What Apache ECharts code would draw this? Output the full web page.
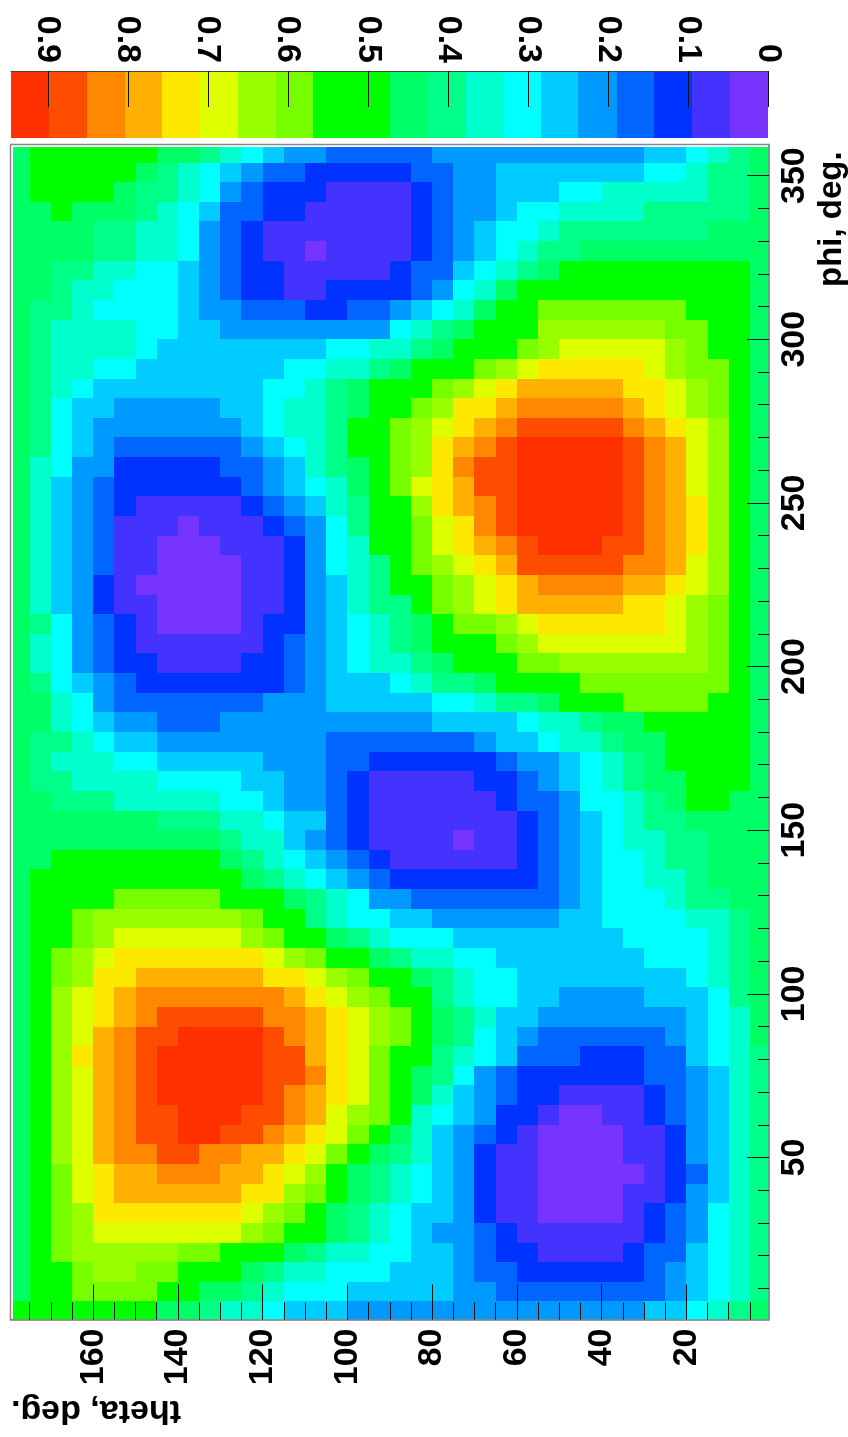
<!DOCTYPE html>
<html>
<head>
<meta charset="utf-8">
<style>html,body{margin:0;padding:0;background:#fff}#c{width:848px;height:1437px}</style>
<script src="https://cdn.jsdelivr.net/npm/echarts@6/dist/echarts.min.js"></script>
</head>
<body>
<div id="c"></div>
<script>
// Colour-band index (0 = lowest band), one row per phi cell, top row phi = 357.
const thetaCentres = [177.5,172.5,167.5,162.5,157.5,152.5,147.5,142.5,137.5,132.5,127.5,122.5,117.5,112.5,107.5,102.5,97.5,92.5,87.5,82.5,77.5,72.5,67.5,62.5,57.5,52.5,47.5,42.5,37.5,32.5,27.5,22.5,17.5,12.5,7.5,2.5];
const phiCentres = [357,351,345,339,333,327,321,315,309,303,297,291,285,279,273,267,261,255,249,243,237,231,225,219,213,207,201,195,189,183,177,171,165,159,153,147,141,135,129,123,117,111,105,99,93,87,81,75,69,63,57,51,45,39,33,27,21,15,9,3];
const bandRows = [
[9,10,10,10,10,10,10,9,9,8,7,6,5,4,4,3,3,3,3,3,4,4,4,4,4,4,4,4,4,4,5,5,6,7,8,9],
[9,10,10,10,10,10,9,8,7,6,5,4,3,3,2,2,2,2,2,3,3,4,4,5,5,5,5,5,5,5,6,6,7,8,8,9],
[9,10,10,10,10,9,8,8,7,6,4,3,2,2,2,1,1,1,1,2,3,4,4,5,5,5,6,6,7,7,7,7,7,8,8,9],
[9,9,10,9,9,9,8,7,6,5,3,3,2,2,1,1,1,1,1,2,3,4,4,5,6,6,7,7,7,7,8,8,8,8,8,9],
[9,9,9,9,8,8,7,7,6,4,3,2,1,1,1,1,1,1,1,2,3,4,5,6,6,7,8,8,8,8,8,8,8,9,9,9],
[9,9,9,9,8,8,7,7,6,4,3,2,1,1,0,1,1,1,1,2,3,4,5,6,7,8,8,9,9,9,9,9,9,9,9,9],
[9,9,8,8,7,7,6,6,5,4,3,2,2,1,1,1,1,1,2,3,3,5,6,7,8,9,10,10,10,10,10,10,10,10,10,9],
[9,9,8,7,7,6,6,6,5,4,3,2,2,1,1,2,2,2,2,3,4,6,7,9,10,10,10,10,10,10,10,10,10,10,10,9],
[9,8,8,7,6,6,6,6,5,4,4,3,3,3,2,2,3,3,4,5,6,7,9,10,10,12,12,12,12,12,12,12,10,10,10,9],
[9,8,7,7,7,7,6,6,5,5,4,4,4,4,4,4,4,4,6,7,8,9,10,10,10,13,13,13,13,13,13,12,12,10,10,9],
[9,8,7,7,7,7,6,5,5,5,5,5,5,5,5,6,6,7,7,8,9,10,10,10,12,13,14,14,14,14,14,13,12,10,10,9],
[9,8,7,7,6,6,5,5,5,5,5,5,5,6,6,7,7,8,9,10,10,10,12,13,14,15,15,15,15,15,14,13,12,12,10,9],
[9,8,7,6,5,5,5,5,5,5,5,5,6,6,7,8,9,10,10,10,12,13,14,15,16,16,16,16,16,15,15,14,13,12,10,9],
[9,8,6,5,5,4,4,4,4,4,5,5,6,7,7,8,9,10,10,12,13,15,15,16,17,17,17,17,17,16,15,14,13,12,10,9],
[9,8,6,5,4,4,4,4,4,4,4,5,6,7,7,8,10,10,12,13,14,15,16,17,18,18,18,18,18,17,16,15,14,13,10,9],
[9,8,6,5,4,3,3,3,3,3,3,4,5,6,7,8,10,10,12,13,15,16,17,18,19,19,19,19,19,18,17,16,14,13,10,9],
[9,7,6,4,4,2,2,2,2,2,3,3,4,5,7,8,9,10,12,13,15,17,18,18,19,19,19,19,19,18,17,16,14,13,10,9],
[9,7,5,4,3,2,2,2,2,2,2,3,4,5,6,7,9,10,12,14,15,16,18,18,19,19,19,19,19,18,17,16,14,13,10,9],
[9,7,5,4,3,2,1,1,1,1,1,2,3,4,5,7,8,10,10,13,15,16,17,18,19,19,19,19,19,18,17,16,15,13,10,9],
[9,7,5,4,3,1,1,1,0,1,1,1,2,3,4,6,8,10,10,12,14,15,17,18,19,19,19,19,19,18,17,16,15,13,10,9],
[9,7,5,4,3,1,1,0,0,0,1,1,1,2,4,6,7,10,10,12,14,15,16,17,18,19,19,19,18,18,17,16,15,13,10,9],
[9,7,5,4,3,1,1,0,0,0,0,1,1,2,4,6,7,8,10,12,13,14,15,16,18,18,18,18,18,17,17,16,14,13,10,9],
[9,7,5,4,2,1,0,0,0,0,0,1,1,2,4,5,7,8,10,10,12,13,14,15,16,17,17,17,17,16,16,15,14,13,10,9],
[9,7,5,4,2,1,1,0,0,0,0,1,1,2,4,5,7,8,8,10,12,13,14,15,16,16,16,16,16,15,15,14,13,12,10,9],
[9,8,6,4,3,2,1,0,0,0,0,1,2,2,4,5,6,7,8,9,10,12,12,13,14,15,15,15,15,15,15,14,13,12,10,9],
[9,7,6,4,3,2,1,1,1,1,1,1,2,3,4,5,6,7,8,9,10,10,10,12,13,14,14,14,14,14,14,14,13,12,10,9],
[9,7,6,4,3,2,2,1,1,1,1,2,2,3,4,5,6,7,7,8,9,10,10,10,12,12,13,13,13,13,13,13,13,12,10,9],
[9,8,6,5,4,3,2,2,2,2,2,2,2,3,4,5,5,5,6,7,8,8,9,10,10,10,10,12,12,12,12,12,12,12,10,9],
[9,9,7,6,4,3,3,3,3,3,3,3,4,4,4,5,5,5,5,5,6,6,7,8,8,9,10,10,10,12,12,12,12,10,10,9],
[9,9,7,6,5,4,4,3,3,3,4,4,4,4,4,4,4,4,4,4,5,5,5,5,6,7,7,8,9,9,10,10,10,10,10,9],
[9,8,8,7,6,5,5,4,4,4,4,4,4,4,4,3,3,3,3,3,3,3,4,5,5,6,7,7,8,9,9,10,10,10,10,9],
[9,8,7,7,7,6,6,5,5,5,5,5,4,4,4,3,3,2,2,2,2,2,2,3,4,4,5,6,7,8,9,10,10,10,10,9],
[9,8,8,7,7,7,7,6,6,6,6,5,5,4,4,3,2,1,1,1,1,1,2,2,3,4,5,6,7,8,9,9,10,10,10,9],
[9,9,8,8,8,7,7,7,7,7,6,6,5,4,4,3,2,1,1,1,1,1,1,2,3,3,4,6,6,7,8,9,10,10,9,9],
[9,9,9,9,9,9,9,8,8,8,7,7,6,5,5,3,2,1,1,1,1,1,1,1,2,3,4,5,6,7,8,8,9,9,9,9],
[9,9,9,9,9,9,9,9,9,9,8,7,7,5,4,3,2,1,1,1,1,0,1,1,2,3,4,5,6,7,7,8,8,9,9,9],
[9,9,10,10,10,10,10,10,10,10,9,8,7,6,5,4,3,2,1,1,1,1,1,1,2,3,4,5,6,6,7,8,8,9,9,9],
[9,10,10,10,10,10,10,10,10,10,10,9,8,7,6,5,4,3,2,2,2,2,2,2,2,3,4,5,6,6,7,7,8,9,9,9],
[9,10,10,10,10,12,12,12,12,12,10,10,10,9,8,7,6,4,4,3,3,3,3,3,3,3,4,5,6,6,6,7,8,8,9,9],
[9,10,10,12,13,13,13,13,13,13,13,12,10,10,8,7,6,6,5,5,4,4,4,4,4,4,5,5,6,6,6,6,7,7,8,9],
[9,10,10,12,13,14,14,14,14,14,14,13,12,10,10,9,8,7,6,6,6,5,5,5,5,5,5,5,5,6,6,6,6,7,8,9],
[9,10,12,13,14,15,15,15,15,15,15,15,14,13,12,10,10,9,8,7,7,6,6,5,5,5,5,5,5,5,6,6,6,7,8,9],
[9,10,12,13,15,15,16,16,16,16,16,16,15,15,14,13,12,10,10,9,8,7,6,6,5,5,5,5,5,5,5,5,6,7,8,9],
[9,10,13,14,15,16,17,17,17,17,17,17,17,16,15,14,13,12,10,10,8,7,6,6,5,5,4,4,4,4,5,5,5,6,8,9],
[9,10,13,14,15,16,17,18,18,18,18,18,17,17,16,15,14,13,12,10,9,8,7,5,5,4,4,4,4,4,4,4,5,6,7,9],
[9,10,13,14,16,17,18,18,19,19,19,19,18,17,16,15,14,13,12,10,9,8,6,5,4,3,3,3,3,3,3,4,5,6,7,9],
[9,10,13,15,16,17,18,19,19,19,19,19,18,18,16,15,14,12,10,10,8,7,6,5,3,3,3,2,2,2,3,3,5,6,7,8],
[9,10,13,14,16,17,18,19,19,19,19,19,18,18,17,15,14,12,10,9,8,6,4,3,2,2,2,2,2,2,3,3,4,5,7,8],
[9,10,13,14,16,17,18,19,19,19,19,19,18,17,16,15,14,12,10,9,7,5,4,3,2,2,1,1,1,1,2,3,4,5,7,8],
[9,10,13,14,16,17,18,18,19,19,19,18,18,17,16,14,13,12,10,7,6,5,4,2,2,1,0,0,1,1,2,3,4,5,7,8],
[9,10,13,14,16,17,18,18,19,19,18,18,17,16,15,14,12,10,9,7,5,4,3,2,1,0,0,0,0,1,1,2,4,5,7,8],
[9,10,13,14,16,17,17,18,18,17,17,16,16,15,14,12,10,9,8,7,5,4,2,1,1,0,0,0,0,1,1,2,4,5,7,8],
[9,10,12,14,15,16,16,17,17,17,16,16,15,14,13,10,9,8,7,6,5,4,2,1,1,0,0,0,0,0,1,2,3,5,7,8],
[9,10,12,14,15,16,16,16,16,16,16,15,15,13,12,10,9,8,7,6,5,4,2,1,1,0,0,0,0,1,1,2,4,5,7,8],
[9,10,12,13,15,15,15,15,15,15,15,14,13,12,10,9,8,7,6,5,5,4,2,1,1,0,0,0,0,1,2,3,4,6,7,8],
[9,10,12,13,14,14,14,14,14,14,14,13,12,10,10,9,8,7,6,5,4,4,3,2,1,1,1,1,1,1,2,3,4,6,7,8],
[9,10,12,13,13,13,13,13,12,12,10,10,10,9,8,7,7,6,6,5,5,4,3,2,2,1,1,1,1,2,3,3,5,6,7,8],
[9,10,10,12,13,13,12,12,10,10,10,9,8,7,7,6,6,6,5,5,5,4,3,3,2,2,2,2,2,2,3,4,5,6,7,8],
[9,10,10,12,12,12,12,10,10,9,9,8,7,6,6,6,5,5,5,5,5,4,4,3,3,3,3,3,3,3,3,4,5,6,7,8],
[10,10,10,10,10,10,10,9,9,8,7,7,6,5,5,5,4,4,4,4,4,4,4,4,4,4,4,4,4,4,5,5,6,7,8,9]
];
const palette = ['#7733ff','#4433ff','#0033ff','#0066ff','#0099ff','#00ccff','#00ffff','#00ffcc','#00ff88','#00ff66','#00ff00','#00ff00','#77ff00','#99ff00','#ddff00','#ffe800','#ffb000','#ff8800','#ff4d00','#ff3000'];
const barEdges = [0,0.047,0.095,0.142,0.189,0.237,0.284,0.331,0.378,0.426,0.473,0.520,0.568,0.615,0.662,0.710,0.757,0.804,0.851,0.899,0.946];
const barTicks = [0,0.1,0.2,0.3,0.4,0.5,0.6,0.7,0.8,0.9];
const thetaMajor = [20,40,60,80,100,120,140,160];
const thetaMinor = [5,10,15,25,30,35,45,50,55,65,70,75,85,90,95,105,110,115,125,130,135,145,150,155,165,170,175];
const phiMajor = [50,100,150,200,250,300,350];
const phiMinor = [10,20,30,40,60,70,80,90,110,120,130,140,160,170,180,190,210,220,230,240,260,270,280,290,310,320,330,340];

const FONT = '"Liberation Sans", Arial, sans-serif';
const thetaCell = 5, phiCell = 6;
const thetaEdge = 179, phiEdge = 358.6;
const cells = [];
bandRows.forEach((r, i) => r.forEach((b, j) => cells.push([thetaCentres[j], phiCentres[i], b])));
const barCells = palette.map((c, i) => [barEdges[i], barEdges[i + 1], i]);

function renderCell(params, api) {
  const t = api.value(0), p = api.value(1);
  const a = api.coord([Math.min(t + thetaCell / 2, thetaEdge), Math.min(p + phiCell / 2, phiEdge)]);
  const b = api.coord([Math.max(t - thetaCell / 2, 0.5), Math.max(p - phiCell / 2, 0.5)]);
  const x = Math.round(a[0]), y = Math.round(a[1]);
  return { type: 'rect', shape: { x, y, width: Math.round(b[0]) - x, height: Math.round(b[1]) - y },
           style: { fill: palette[api.value(2)] } };
}
function renderBar(params, api) {
  const a = api.coord([api.value(1), 1]);
  const b = api.coord([api.value(0), 0]);
  const x = Math.round(a[0]), y = Math.round(a[1]);
  return { type: 'rect', shape: { x, y, width: Math.round(b[0]) - x, height: Math.round(b[1]) - y },
           style: { fill: palette[api.value(2)] } };
}
const labelStyle = { color: '#000', fontFamily: FONT, fontWeight: 'bold', fontSize: 34, rotate: 90 };
const tickLine = { color: '#111', width: 1 };
const frameLine = { show: true, onZero: false, lineStyle: { color: '#888', width: 1.5 } };

const chart = echarts.init(document.getElementById('c'), null, { renderer: 'canvas' });
chart.setOption({
  animation: false,
  backgroundColor: '#fff',
  grid: [
    { left: 10.5, top: 144.5, width: 758.5, height: 1175, show: true, borderColor: '#888', borderWidth: 1.5, backgroundColor: '#fff' },
    { left: 11, top: 71, width: 757, height: 67 }
  ],
  xAxis: [
    { type: 'value', gridIndex: 0, position: 'bottom', inverse: true, min: 0.5, max: 179.5, z: 5,
      axisLine: frameLine, splitLine: { show: false },
      axisTick: { show: true, inside: true, length: 35, lineStyle: tickLine, customValues: thetaMajor },
      axisLabel: Object.assign({ margin: 9, padding: [6, 0, 0, 0], customValues: thetaMajor }, labelStyle) },
    { type: 'value', gridIndex: 0, position: 'bottom', inverse: true, min: 0.5, max: 179.5, z: 5,
      axisLine: { show: false, onZero: false }, splitLine: { show: false },
      axisTick: { show: true, inside: true, length: 17, lineStyle: tickLine, customValues: thetaMinor },
      axisLabel: { show: false } },
    { type: 'value', gridIndex: 1, position: 'top', inverse: true, min: 0, max: 0.946, z: 5,
      axisLine: { show: true, onZero: false, lineStyle: { color: '#444', width: 1 } }, splitLine: { show: false },
      axisTick: { show: true, inside: true, length: 36, lineStyle: tickLine, customValues: barTicks },
      axisLabel: Object.assign({ margin: 8, padding: [6, 0, 0, 0], customValues: barTicks }, labelStyle) }
  ],
  yAxis: [
    { type: 'value', gridIndex: 0, position: 'right', min: 0.5, max: 359.5, z: 5,
      axisLine: frameLine, splitLine: { show: false },
      axisTick: { show: true, inside: true, length: 22, lineStyle: tickLine, customValues: phiMajor },
      axisLabel: Object.assign({ margin: 9, customValues: phiMajor }, labelStyle) },
    { type: 'value', gridIndex: 0, position: 'right', min: 0.5, max: 359.5, z: 5,
      axisLine: { show: false, onZero: false }, splitLine: { show: false },
      axisTick: { show: true, inside: true, length: 11, lineStyle: tickLine, customValues: phiMinor },
      axisLabel: { show: false } },
    { type: 'value', gridIndex: 1, min: 0, max: 1, show: false }
  ],
  series: [
    { type: 'custom', xAxisIndex: 0, yAxisIndex: 0, z: 1, silent: true, renderItem: renderCell,
      encode: { x: 0, y: 1 }, data: cells },
    { type: 'custom', xAxisIndex: 2, yAxisIndex: 2, z: 1, silent: true, renderItem: renderBar,
      encode: { x: [0, 1] }, data: barCells }
  ],
  graphic: [
    { type: 'text', x: 181, y: 1427, rotation: Math.PI, silent: true,
      style: { text: 'theta, deg.', fill: '#000', font: 'bold 34px ' + FONT, textAlign: 'left', textVerticalAlign: 'top' } },
    { type: 'text', x: 815, y: 287, rotation: Math.PI / 2, silent: true,
      style: { text: 'phi, deg.', fill: '#000', font: 'bold 33px ' + FONT, textAlign: 'left', textVerticalAlign: 'top' } }
  ]
});
</script>
</body>
</html>
